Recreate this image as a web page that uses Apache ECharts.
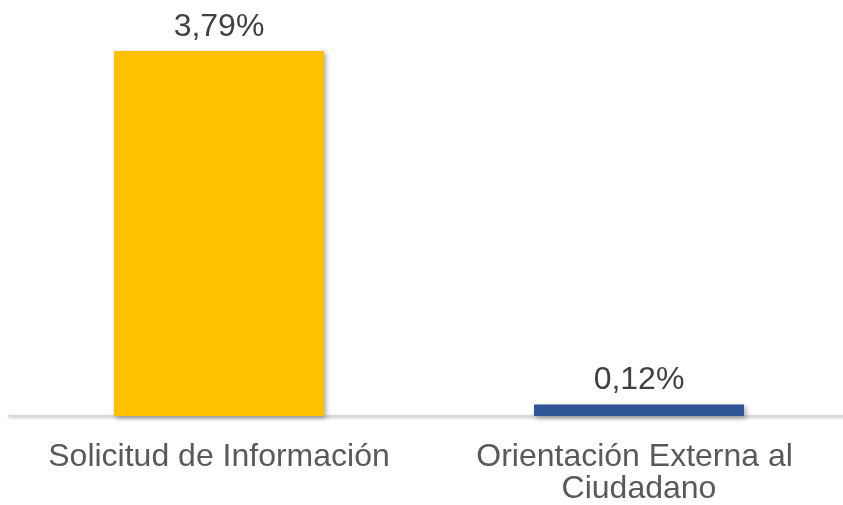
<!DOCTYPE html>
<html>
<head>
<meta charset="utf-8">
<script src="https://cdn.jsdelivr.net/npm/echarts@6/dist/echarts.min.js"></script>
<style>
  html, body { margin: 0; padding: 0; background: #fff; }
  #main { width: 843px; height: 505px; }
</style>
</head>
<body>
<div id="main"></div>
<script>
// datos
var categories = ['Solicitud de Información', 'Orientación Externa al Ciudadano'];
var values = [3.79, 0.12];

var barColors = ['#FFC000', '#2F5597'];

var myChart = echarts.init(document.getElementById('main'));

var option = {
    backgroundColor: '#ffffff',
    animation: false,
    grid: {
        left: 9,
        right: -6,
        top: 51,
        bottom: 89,
        outerBoundsMode: 'none',
        containLabel: false
    },
    xAxis: {
        type: 'category',
        data: categories,
        axisTick: { show: false },
        axisLine: {
            lineStyle: {
                color: '#d9d9d9',
                width: 2,
                shadowColor: 'rgba(0,0,0,0.25)',
                shadowBlur: 3,
                shadowOffsetY: 1
            }
        },
        axisLabel: {
            color: '#595959',
            fontFamily: 'Liberation Sans, Arial, sans-serif',
            fontSize: 32,
            lineHeight: 32,
            margin: 25,
            width: 380,
            overflow: 'break',
            interval: 0
        }
    },
    yAxis: {
        type: 'value',
        min: 0,
        max: 3.79,
        show: false,
        splitLine: { show: false }
    },
    series: [
        {
            type: 'bar',
            data: values,
            barWidth: '50%',
            itemStyle: {
                color: function (p) { return barColors[p.dataIndex]; },
                shadowColor: 'rgba(0,0,0,0.35)',
                shadowBlur: 5,
                shadowOffsetX: 2,
                shadowOffsetY: 2
            },
            label: {
                show: true,
                position: 'top',
                distance: 8,
                color: '#404040',
                fontFamily: 'Liberation Sans, Arial, sans-serif',
                fontSize: 32,
                formatter: function (p) {
                    return p.value.toFixed(2).replace('.', ',') + '%';
                }
            }
        }
    ]
};

myChart.setOption(option);
</script>
</body>
</html>
